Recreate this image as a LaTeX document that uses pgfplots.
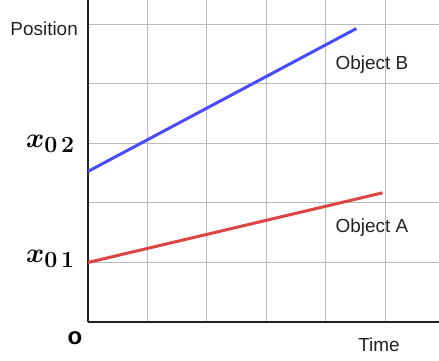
\documentclass[border=0pt]{standalone}
\usepackage{pgfplots}
\pgfplotsset{compat=1.18}
\usepackage{bm}
\usepackage{fontspec}
\setmainfont{Liberation Sans}
\definecolor{lineA}{RGB}{221,68,68}
\definecolor{lineB}{RGB}{74,74,255}
\definecolor{txtc}{RGB}{34,34,34}
\tikzset{
  lbl/.style={inner sep=0pt, text=txtc, font=\fontsize{19}{19}\selectfont},
  xlab/.style={anchor=east, inner sep=0pt, font=\fontsize{24.88}{26}\selectfont},
}
\begin{document}
\begin{tikzpicture}
\path[use as bounding box] (-88bp,-39bp) rectangle (351bp,322bp);
\begin{axis}[
  at={(0,0)}, anchor=south west,
  scale only axis, width=351bp, height=322bp,
  xmin=0, xmax=5.9, ymin=0, ymax=5.41,
  axis lines=left, axis line style={-, line width=2bp, color=txtc},
  xtick={1,2,3,4,5}, ytick={1,2,3,4,5},
  xticklabels={}, yticklabels={},
  major tick length=0pt,
  grid=major, grid style={color=black!27, line width=1bp},
  clip=false,
]
\addplot[color=lineB, line width=3bp] coordinates {(0,2.53) (4.51,4.93)};
\addplot[color=lineA, line width=3bp] coordinates {(0,1.0) (4.95,2.17)};
\end{axis}
\node[lbl, anchor=east] at (-10bp,293bp) {Position};
\node[xlab] at (-13bp,178bp) {\scalebox{1.12}{$\bm{x}_{\bm{0}\,\bm{2}}$}};
\node[xlab] at (-13bp,63bp) {\scalebox{1.12}{$\bm{x}_{\bm{0}\,\bm{1}}$}};
\node[inner sep=0pt, font=\fontsize{24}{24}\selectfont\bfseries] at (-13bp,-16bp) {o};
\node[lbl] at (291bp,-23bp) {Time};
\node[lbl] at (284bp,257bp) {Object B};
\node[lbl] at (284bp,94.5bp) {Object A};
\end{tikzpicture}
\end{document}
